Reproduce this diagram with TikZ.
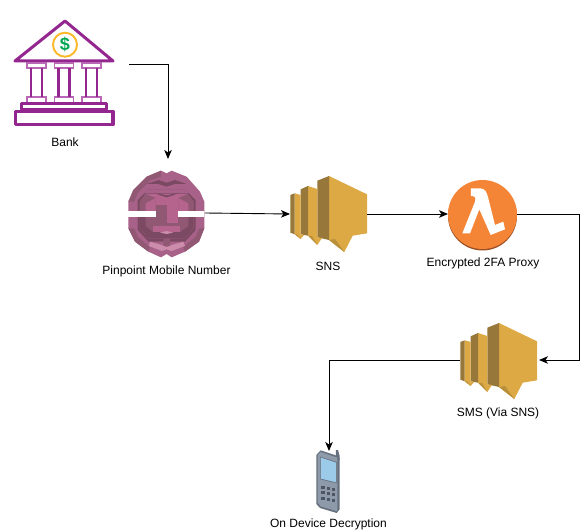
\documentclass[tikz,border=0pt]{standalone}
\usepackage{fontspec}
\setmainfont{Liberation Sans}
\usetikzlibrary{arrows.meta}
\definecolor{bankpurple}{HTML}{93278F}
\definecolor{bankpale}{HTML}{B968B5}
\definecolor{coin}{HTML}{FBB829}
\definecolor{dollar}{HTML}{00A651}
\definecolor{snslight}{HTML}{DDA944}
\definecolor{snsdark}{HTML}{98783A}
\definecolor{snsmid}{HTML}{B8903C}
\definecolor{pinouter}{HTML}{A8628A}
\definecolor{pinbase}{HTML}{B5648E}
\definecolor{pindark}{HTML}{7B4A62}
\definecolor{pinmid}{HTML}{915873}
\definecolor{pinpale}{HTML}{CC8CAB}
\definecolor{lambdaorange}{HTML}{F58536}
\definecolor{lambdadark}{HTML}{9D5025}
\definecolor{phonebody}{HTML}{8E99AA}
\definecolor{phoneedge}{HTML}{65707E}
\definecolor{phonekey}{HTML}{4D5662}
\definecolor{phonescreen}{HTML}{9CCBEA}
\tikzset{
  hold/.style={draw=none,fill=none,inner sep=0pt,outer sep=0pt,minimum width=#1},
  label text/.style={font=\fontsize{12}{14}\selectfont,text=black,inner sep=0pt},
  wire/.style={draw=black,line width=0.9pt,-{Stealth[length=9pt,width=7.5pt,inset=2.5pt]}},
  bankline/.style={draw=bankpurple,line width=3pt,line join=round,fill=white},
  bankcap/.style={draw=bankpale,line width=1.5pt,fill=white},
  snsicon/.pic={
    \fill[snslight] (39,0)--(77,18.3)--(77,57.3)--(62.7,59.7)--(54.3,76)--(39,64)--cycle;
    \fill[snsmid] (39,64)--(45,63)--(54.3,76)--cycle;
    \fill[snsdark] (27.3,4.7)--(39,0)--(39,64)--(27.3,61.3)--cycle;
    \fill[snslight] (18,10)--(27.3,13)--(27.3,61.3)--(32,62)--(27.3,69)--(18,59.7)--cycle;
    \fill[snsmid] (18,59.7)--(22,60)--(27.3,69)--cycle;
    \fill[snsdark] (10.7,13.3)--(18,10)--(18,59.7)--(10.7,58.3)--cycle;
    \fill[snslight] (4.7,17.3)--(10.7,19)--(10.7,58.3)--(14,59)--(10.7,63)--(4.7,58.3)--cycle;
    \fill[snsmid] (4.7,58.3)--(7,58.5)--(10.7,63)--cycle;
    \fill[snsdark] (0.3,19)--(4.7,17.3)--(4.7,58.3)--(0.3,56.7)--cycle;
  }
}
\begin{document}
\begin{tikzpicture}[x=1pt,y=-1pt]
\useasboundingbox (0,0) rectangle (587,532);
\fill[white] (0,0) rectangle (587,532);

% Bank icon
\draw[bankline] (15,61)--(65,21)--(113,61)--cycle;
\foreach \cx in {36.5,64,91.5}{
  \draw[bankcap] (\cx-9.6,63)rectangle(\cx+9.6,68);
  \draw[bankcap] (\cx-9.6,97)rectangle(\cx+9.6,102.5);
  \draw[bankpurple,line width=2.6pt] (\cx-5.4,68)--(\cx-5.4,97) (\cx+5.4,68)--(\cx+5.4,97);
}
\draw[bankline] (21.5,104) rectangle (106.5,110);
\draw[bankline,line width=3.2pt] (15.5,111.5) rectangle (113,124.5);
\draw[coin,line width=1.9pt,fill=white] (65,44.7) circle (12);
\node[inner sep=0pt,text=dollar,font=\bfseries\fontsize{18}{18}\selectfont] (dollarsign) at (65,44.7) {\$};

% Pinpoint icon
\begin{scope}[shift={(125,170)},x=0.3333pt,y=-0.3333pt]
\fill[pinouter] (125,10)--(140,2)--(185,20)--(225,65)--(238,95)--(238,175)--(222,215)--(180,245)--(140,262)--(125,252)--(108,262)--(70,245)--(30,215)--(10,175)--(10,95)--(25,60)--(65,20)--(108,2)--cycle;
\fill[pinmid] (10,95)--(25,60)--(65,20)--(108,2)--(108,20)--(75,32)--(38,70)--(28,95)--cycle;
\fill[pinmid] (10,175)--(28,175)--(38,200)--(75,232)--(70,245)--(30,215)--cycle;
\fill[pinmid] (238,175)--(222,175)--(212,200)--(175,232)--(180,245)--(222,215)--cycle;
\fill[pindark] (38,90)--(70,58)--(180,58)--(212,90)--(212,180)--(180,215)--(70,215)--(38,180)--cycle;
\fill[pinouter] (70,58)--(180,58)--(192,70)--(58,70)--cycle;
\fill[pinbase] (62,72)--(188,72)--(205,95)--(205,175)--(180,205)--(70,205)--(45,175)--(45,95)--cycle;
\fill[pindark] (65,42)--(100,30)--(125,38)--(150,30)--(185,42)--(150,42)--(125,50)--(100,42)--cycle;
\fill[pindark] (90,68)--(125,76)--(160,68)--(145,76)--(125,82)--(105,76)--cycle;
% sides of the inner ring, above and below the slot
\fill[pinmid] (45,95)--(62,72)--(92,84)--(92,124)--(45,124)--cycle;
\fill[pinmid] (205,95)--(188,72)--(160,84)--(160,124)--(205,124)--cycle;
\fill[pinbase] (62,100)--(92,84)--(92,124)--(62,124)--cycle;
\fill[pinbase] (190,100)--(160,84)--(160,124)--(190,124)--cycle;
\fill[pindark] (45,140)--(205,140)--(205,175)--(180,205)--(70,205)--(45,175)--cycle;
\fill[pinmid] (62,140)--(190,140)--(190,168)--(165,186)--(85,186)--(62,168)--cycle;
\fill[pinbase] (85,168)--(165,168)--(165,186)--(85,186)--cycle;
\fill[pinpale] (105,188)--(125,183)--(145,188)--(125,192)--cycle;
\fill[pinmid] (115,205)--(135,205)--(135,232)--(125,226)--(115,232)--cycle;
\fill[pinpale] (75,215)--(110,225)--(125,232)--(140,225)--(175,215)--(180,228)--(140,243)--(125,238)--(110,243)--(72,228)--cycle;
\fill[pinmid] (92,105)--(125,105)--(125,158)--(92,158)--cycle;
\fill[pinbase] (125,105)--(160,105)--(160,158)--(125,158)--cycle;
\fill[white] (10,124) rectangle (92,140);
\fill[white] (160,124) rectangle (238,140);
\end{scope}

% SNS icons
\pic at (290,176) {snsicon};
\pic at (460,323) {snsicon};

% Lambda icon
\fill[lambdadark] (482.5,216) circle (34.5);
\fill[lambdaorange] (482.5,214.5) circle (34.5);
\begin{scope}[shift={(420,170)},x=0.3333pt,y=-0.3333pt]
\fill[white] (153,55)--(180,55) .. controls (195,55) and (200,65) .. (205,85)--(225,165)--(250,155)--(255,178)--(212,195)--(178,118)--(150,190)--(127,190)--(165,95) .. controls (168,82) and (165,78) .. (153,78)--cycle;
\end{scope}

% Phone icon
\begin{scope}[shift={(290,440)},x=0.3333pt,y=-0.3333pt]
\fill[phoneedge] (138,30)--(144,30)--(149,48)--(149,60)--(138,50)--cycle;
\fill[phoneedge] (79,45)--(92,31)--(140,47)--(149,55)--(149,208)--(140,219)--(90,204)--(79,192)--cycle;
\fill[phonebody] (83,45)--(92,36)--(142,53)--(142,214)--(92,199)--(83,188)--cycle;
\fill[phoneedge] (91,50)--(140,66)--(140,130)--(91,118)--cycle;
\fill[phonescreen] (93,53)--(138,68)--(138,127)--(93,116)--cycle;
\foreach \col/\dx in {0/0,1/16,2/32}{
  \foreach \row/\dy in {0/0,1/16,2/32}{
    \fill[phonekey] (94+\dx,138+\dy+\col*3) rectangle ++(10,9);
  }
}
\end{scope}

% Holding nodes for connector ends
\node[hold=128pt,minimum height=108pt] (bank) at (65,64) {};
\node[hold=74pt,minimum height=108pt] (pin) at (168,213) {};
\node[hold=77pt,minimum height=76pt] (sns) at (328.5,214) {};
\node[hold=69pt,minimum height=69pt] (lambda) at (482.5,214) {};
\node[hold=79pt,minimum height=76pt] (sms) at (499.5,360) {};
\node[hold=25pt,minimum height=62pt] (phone) at (329,482) {};
\coordinate (bendA) at (579,214);

% Connectors
\draw[wire] (bank.east) -| (pin.north);
\draw[wire] (pin.east) -- (sns.west);
\draw[wire] (sns.east) -- (lambda.west);
\draw[wire] (lambda.east) -- (bendA) |- (sms.east);
\draw[wire] (sms.west) -| (phone.north);

% Labels
\node[label text] (lbank) at (65,142) {Bank};
\node[label text] (lpin) at (166.5,271) {Pinpoint Mobile Number};
\node[label text] (lsns) at (328,266) {SNS};
\node[label text] (llambda) at (483,263.5) {Encrypted 2FA Proxy};
\node[label text] (lsms) at (498,413) {SMS (Via SNS)};
\node[label text] (lphone) at (328.5,524) {On Device Decryption};
\end{tikzpicture}
\end{document}
